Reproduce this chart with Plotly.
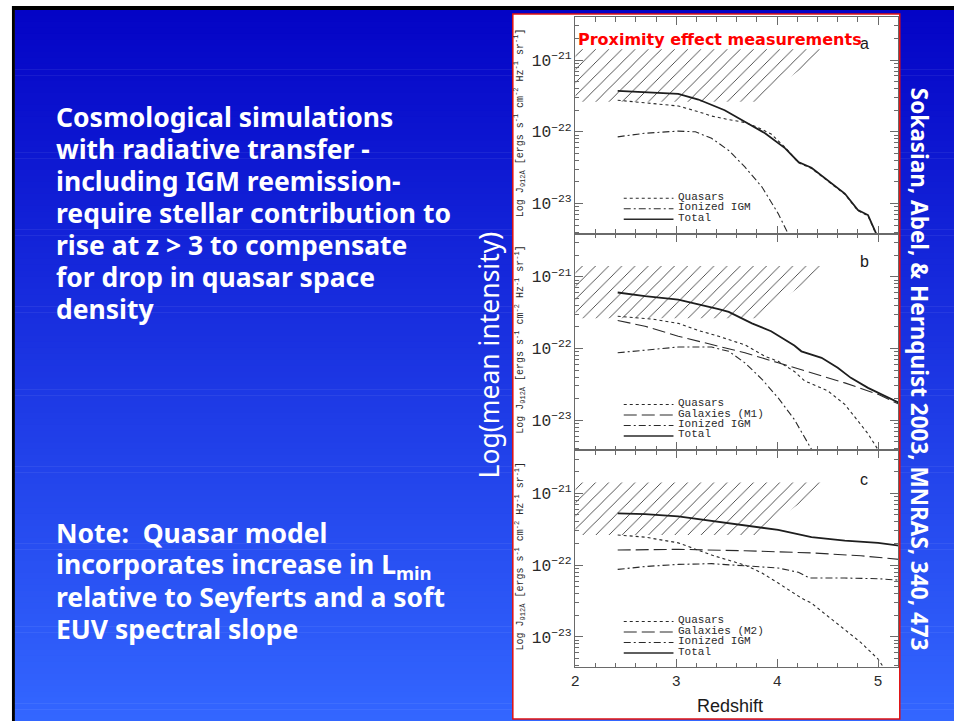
import numpy as np
import plotly.graph_objects as go
from plotly.subplots import make_subplots

W, H = 954, 721

# ---- ionizing background J_912 (log10, ergs s^-1 cm^-2 Hz^-1 sr^-1) vs redshift ----
# panel a: quasars + ionized IGM
a_total_z = [2.42, 2.76, 3.02, 3.22, 3.35, 3.48, 3.68, 3.88, 4.08, 4.21, 4.34, 4.50, 4.67, 4.80, 4.90, 5.00]
a_total_lj = [-21.43, -21.45, -21.47, -21.55, -21.63, -21.70, -21.86, -22.02, -22.23, -22.42, -22.50, -22.67, -22.86, -23.09, -23.16, -23.48]
a_qso_z = [2.42, 2.76, 3.02, 3.22, 3.35, 3.52, 3.68, 3.81, 3.94, 4.08, 4.21, 4.34, 4.50, 4.67, 4.80, 4.90, 5.00]
a_qso_lj = [-21.56, -21.60, -21.64, -21.72, -21.78, -21.83, -21.87, -21.94, -22.03, -22.22, -22.43, -22.51, -22.68, -22.87, -23.10, -23.17, -23.49]
a_igm_z = [2.42, 2.69, 3.02, 3.19, 3.35, 3.52, 3.68, 3.85, 4.01, 4.13]
a_igm_lj = [-22.07, -22.02, -21.99, -22.00, -22.09, -22.26, -22.49, -22.77, -23.14, -23.48]

# panel b: quasars + galaxies (M1) + ionized IGM
b_total_z = [2.42, 2.69, 3.02, 3.22, 3.42, 3.52, 3.61, 3.75, 3.94, 4.17, 4.24, 4.44, 4.60, 4.73, 4.90, 5.06, 5.21]
b_total_lj = [-21.22, -21.27, -21.32, -21.38, -21.45, -21.49, -21.55, -21.65, -21.76, -21.96, -22.04, -22.13, -22.27, -22.41, -22.55, -22.66, -22.76]
b_qso_z = [2.42, 2.76, 3.02, 3.22, 3.42, 3.68, 3.88, 4.01, 4.17, 4.27, 4.50, 4.67, 4.80, 4.90, 5.03]
b_qso_lj = [-21.55, -21.59, -21.65, -21.75, -21.83, -21.95, -22.11, -22.18, -22.32, -22.45, -22.59, -22.78, -23.01, -23.19, -23.48]
b_gal_z = [2.42, 2.69, 3.02, 3.35, 3.68, 4.01, 4.34, 4.67, 5.00, 5.21]
b_gal_lj = [-21.61, -21.69, -21.83, -21.95, -22.06, -22.20, -22.34, -22.48, -22.64, -22.78]
b_igm_z = [2.42, 2.69, 3.02, 3.35, 3.52, 3.68, 3.85, 4.01, 4.17, 4.37]
b_igm_lj = [-22.06, -22.02, -21.98, -21.98, -22.04, -22.20, -22.43, -22.69, -22.99, -23.48]

# panel c: quasars + galaxies (M2) + ionized IGM
c_total_z = [2.42, 2.69, 3.02, 3.35, 3.68, 4.01, 4.34, 4.67, 5.00, 5.21]
c_total_lj = [-21.28, -21.29, -21.32, -21.38, -21.44, -21.51, -21.61, -21.66, -21.69, -21.73]
c_qso_z = [2.42, 2.69, 3.02, 3.35, 3.68, 3.85, 4.01, 4.24, 4.34, 4.50, 4.67, 4.83, 5.00, 5.08]
c_qso_lj = [-21.58, -21.61, -21.69, -21.86, -22.00, -22.11, -22.25, -22.46, -22.53, -22.71, -22.90, -23.08, -23.31, -23.48]
c_gal_z = [2.42, 3.02, 3.68, 4.34, 4.83, 5.21]
c_gal_lj = [-21.79, -21.78, -21.80, -21.83, -21.87, -21.92]
c_igm_z = [2.42, 2.69, 3.02, 3.35, 3.68, 4.01, 4.21, 4.32, 4.67, 5.00, 5.21]
c_igm_lj = [-22.06, -22.02, -21.99, -21.98, -22.01, -22.04, -22.10, -22.18, -22.18, -22.19, -22.21]

# proximity-effect measurement region (hatched)
prox_z = [2.0, 3.80, 4.50, 2.0]
prox_lj = [-21.58, -21.58, -20.85, -20.85]

# legend labels per panel
legend_a = ["Quasars", "Ionized IGM", "Total"]
legend_b = ["Quasars", "Galaxies (M1)", "Ionized IGM", "Total"]
legend_c = ["Quasars", "Galaxies (M2)", "Ionized IGM", "Total"]
panel_letters = ["a", "b", "c"]

# slide text
bullet_lines = [
    "Cosmological simulations",
    "with radiative transfer -",
    "including IGM reemission-",
    "require stellar contribution to",
    "rise at z &gt; 3 to compensate",
    "for drop in quasar space",
    "density",
]
note_lines = [
    "Note:  Quasar model",
    "incorporates increase in L<sub>min</sub>",
    "relative to Seyferts and a soft",
    "EUV spectral slope",
]
citation = "Sokasian, Abel, &amp; Hernquist 2003, MNRAS, 340, 473"
side_title = "Log(mean intensity)"
x_title = "Redshift"
y_title = "Log J<sub>912Å</sub> [ergs s<sup>-1</sup> cm<sup>-2</sup> Hz<sup>-1</sup> sr<sup>-1</sup>]"


def px(x):
    return x / W


def py(y):
    return 1 - y / H


def J(v):
    return np.power(10.0, np.array(v))


LINE = "#2a2a2a"
AX = "#6a6a6a"
DASHDOT = "7px,3px,2px,3px"
LONGDASH = "13px,5px"

fig = make_subplots(rows=3, cols=1, shared_xaxes=True, vertical_spacing=0)

panels = [
    (1, a_total_z, a_total_lj, a_qso_z, a_qso_lj, None, None, a_igm_z, a_igm_lj),
    (2, b_total_z, b_total_lj, b_qso_z, b_qso_lj, b_gal_z, b_gal_lj, b_igm_z, b_igm_lj),
    (3, c_total_z, c_total_lj, c_qso_z, c_qso_lj, c_gal_z, c_gal_lj, c_igm_z, c_igm_lj),
]

for row, tz, tl, qz, ql, gz, gl, iz, il in panels:
    fig.add_trace(go.Scatter(
        x=prox_z, y=J(prox_lj), mode="lines", fill="toself",
        fillcolor="black", line=dict(width=0),
        fillpattern=dict(shape="/", size=9.3, solidity=0.09, fgcolor="#303030",
                         fgopacity=1, bgcolor="rgba(255,255,255,0)", fillmode="replace"),
        hoverinfo="skip", showlegend=False), row=row, col=1)
    fig.add_trace(go.Scatter(x=qz, y=J(ql), mode="lines",
                             line=dict(color=LINE, width=1.1, dash="dot"),
                             showlegend=False), row=row, col=1)
    if gz is not None:
        fig.add_trace(go.Scatter(x=gz, y=J(gl), mode="lines",
                                 line=dict(color=LINE, width=1.1, dash=LONGDASH),
                                 showlegend=False), row=row, col=1)
    fig.add_trace(go.Scatter(x=iz, y=J(il), mode="lines",
                             line=dict(color=LINE, width=1.1, dash=DASHDOT),
                             showlegend=False), row=row, col=1)
    fig.add_trace(go.Scatter(x=tz, y=J(tl), mode="lines",
                             line=dict(color="#1e1e1e", width=1.8),
                             showlegend=False), row=row, col=1)

# plot-area geometry in pixels
PX0, PX1 = 573.3, 898.0
PY = [17.0, 233.7, 450.3, 667.0]

shapes = []
# slide background: white margin, black frame, blue vertical gradient
shapes.append(dict(type="rect", xref="paper", yref="paper", x0=px(7), x1=1, y0=py(6), y1=py(10),
                   fillcolor="black", line=dict(width=0), layer="below"))
shapes.append(dict(type="rect", xref="paper", yref="paper", x0=px(7), x1=px(10), y0=0, y1=py(6),
                   fillcolor="black", line=dict(width=0), layer="below"))
c0 = np.array([4, 4, 198])
c1 = np.array([51, 102, 255])
nb = 120
edges = np.linspace(10, H, nb + 1)
for i in range(nb):
    t = i / (nb - 1)
    c = (c0 + (c1 - c0) * t).round().astype(int)
    shapes.append(dict(type="rect", xref="paper", yref="paper", x0=px(10), x1=1,
                       y0=py(edges[i + 1] + 0.6), y1=py(edges[i]),
                       fillcolor=f"rgb({c[0]},{c[1]},{c[2]})", line=dict(width=0), layer="below"))
# white figure panel with red frame
shapes.append(dict(type="rect", xref="paper", yref="paper", x0=px(510.5), x1=px(899.5),
                   y0=py(719), y1=py(14), fillcolor="white",
                   line=dict(color="#e01010", width=1.5), layer="below"))

annotations = []

# legends drawn inside each panel
styles = {"Quasars": ("dot", 1.1), "Ionized IGM": (DASHDOT, 1.1), "Total": ("solid", 1.4),
          "Galaxies (M1)": (LONGDASH, 1.1), "Galaxies (M2)": (LONGDASH, 1.1)}
legend_rows = [(legend_a, [196.7, 207.2, 217.7]),
               (legend_b, [403.0, 413.5, 424.0, 434.5]),
               (legend_c, [620.0, 630.5, 641.0, 651.5])]
for labels, ys in legend_rows:
    for lab, yy in zip(labels, ys):
        dash, wdt = styles[lab]
        shapes.append(dict(type="line", xref="paper", yref="paper", x0=px(622), x1=px(672),
                           y0=py(yy + 1.5), y1=py(yy + 1.5),
                           line=dict(color=LINE, width=wdt, dash=dash)))
        annotations.append(dict(text=lab, xref="paper", yref="paper", x=px(676), y=py(yy),
                                xanchor="left", yanchor="middle", showarrow=False, borderpad=0,
                                font=dict(family="Liberation Mono", size=11, color="#2a2a2a")))

# panel letters and rotated y titles
for k, (letter, yy) in enumerate(zip(panel_letters, [44, 261, 479])):
    annotations.append(dict(text=letter, xref="paper", yref="paper", x=px(864), y=py(yy),
                            xanchor="center", yanchor="middle", showarrow=False,
                            font=dict(family="Liberation Sans", size=16, color="#1a1a1a")))
    yc = (PY[k] + PY[k + 1]) / 2 - 3
    annotations.append(dict(text=y_title, xref="paper", yref="paper", x=px(517.5), y=py(yc),
                            xanchor="center", yanchor="middle", textangle=-90, showarrow=False,
                            font=dict(family="Liberation Mono", size=10, color="#2a2a2a")))

annotations.append(dict(text=x_title, xref="paper", yref="paper", x=px(729), y=py(706),
                        xanchor="center", yanchor="middle", showarrow=False,
                        font=dict(family="Liberation Sans", size=18, color="#1a1a1a")))
annotations.append(dict(text="<b>Proximity effect measurements</b>", xref="paper", yref="paper",
                        x=px(574), y=py(40), xanchor="left", yanchor="middle", showarrow=False,
                        font=dict(family="DejaVu Sans", size=16, color="#ff0000")))

# slide text
for i, line in enumerate(bullet_lines):
    annotations.append(dict(text=f"<b>{line}</b>", xref="paper", yref="paper", x=px(49),
                            y=py(117 + 32 * i), xanchor="left", yanchor="middle", showarrow=False,
                            font=dict(family="Noto Sans", size=26.5, color="white")))
for i, line in enumerate(note_lines):
    annotations.append(dict(text=f"<b>{line}</b>", xref="paper", yref="paper", x=px(49),
                            y=py(533 + 32 * i), xanchor="left", yanchor="middle", showarrow=False,
                            font=dict(family="Noto Sans", size=26.5, color="white")))
annotations.append(dict(text=f"<b>{citation}</b>", xref="paper", yref="paper", x=px(920),
                        y=py(369), xanchor="center", yanchor="middle", textangle=90,
                        showarrow=False, font=dict(family="Noto Sans", size=22.5, color="white")))
annotations.append(dict(text=side_title, xref="paper", yref="paper", x=px(487),
                        y=py(355), xanchor="center", yanchor="middle", textangle=-90,
                        showarrow=False, font=dict(family="Noto Sans", size=26.5, color="white")))

fig.update_layout(
    width=W, height=H, margin=dict(l=0, r=0, t=0, b=0),
    paper_bgcolor="white", plot_bgcolor="white",
    shapes=shapes, annotations=annotations, showlegend=False,
)

for r in range(3):
    xa = "xaxis" if r == 0 else f"xaxis{r + 1}"
    ya = "yaxis" if r == 0 else f"yaxis{r + 1}"
    fig.layout[xa].update(
        domain=[px(PX0), px(PX1)], range=[2, 5.2], tick0=2, dtick=1,
        ticks="inside", ticklen=8, tickwidth=1, tickcolor=AX,
        minor=dict(dtick=0.2, ticks="inside", ticklen=4.5, tickwidth=1, tickcolor=AX),
        mirror="ticks", showline=True, linecolor=AX, linewidth=1,
        showgrid=False, zeroline=False, showticklabels=(r == 2),
        tickfont=dict(family="Liberation Mono", size=15, color="#2a2a2a"),
    )
    fig.layout[ya].update(
        domain=[py(PY[r + 1]), py(PY[r])], type="log", range=[-23.42, -20.40], dtick=1,
        ticks="inside", ticklen=8, tickwidth=1, tickcolor=AX,
        minor=dict(ticks="inside", ticklen=4, tickwidth=1, tickcolor=AX),
        mirror="ticks", showline=True, linecolor=AX, linewidth=1,
        showgrid=False, zeroline=False, exponentformat="power",
        tickfont=dict(family="Liberation Mono", size=13, color="#2a2a2a"),
    )

fig.write_html("out.html")
